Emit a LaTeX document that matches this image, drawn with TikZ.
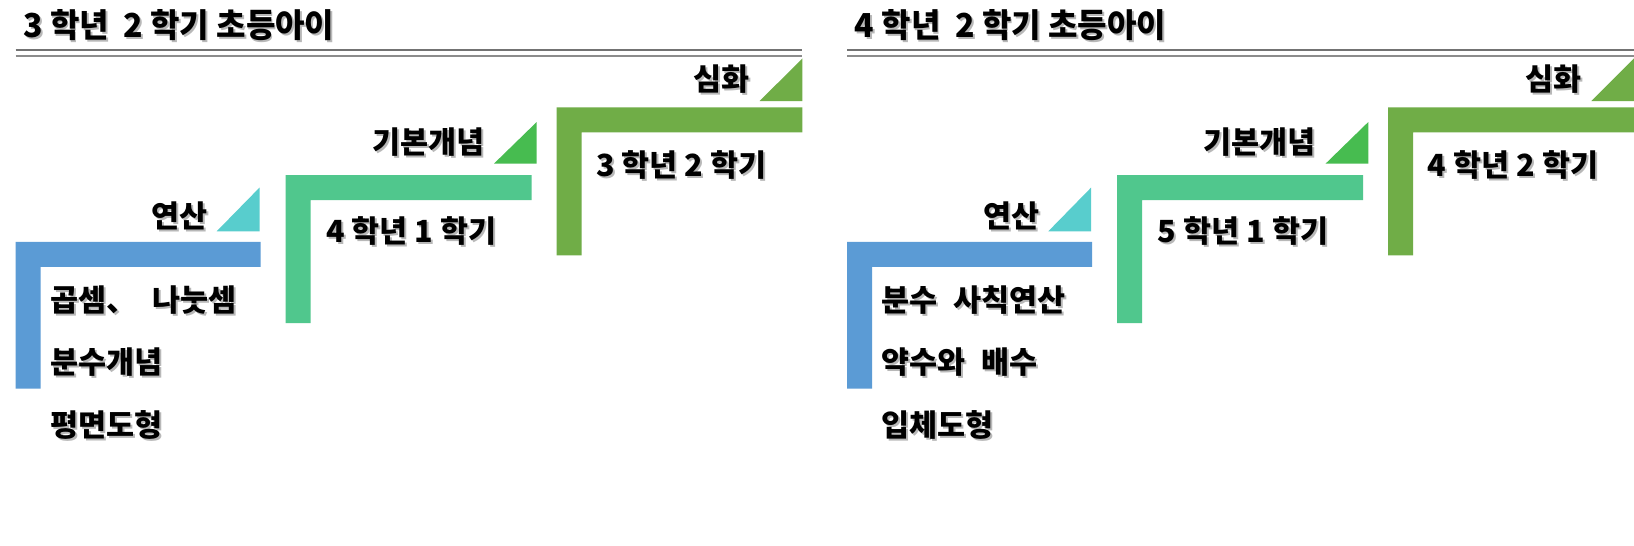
\documentclass[tikz,border=0pt]{standalone}
\usepackage{fontspec}
\setmainfont{Noto Sans CJK KR}
\usetikzlibrary{positioning}
\definecolor{opblue}{HTML}{5B9BD5}
\definecolor{opcyan}{HTML}{58CDCD}
\definecolor{basegreen}{HTML}{50C78D}
\definecolor{basetri}{HTML}{47BC50}
\definecolor{deepolive}{HTML}{70AD47}
% text with a soft drop shadow
\newcommand{\shd}[1]{\makebox[0pt][l]{\hspace{2pt}\raisebox{-2pt}{\color{black!28}#1}}#1}
\newcommand{\widesp}{\spaceskip=0.5em\relax}
\tikzset{
  ttl/.style={font=\fontsize{33}{35}\selectfont\bfseries, inner sep=0pt, xscale=0.97},
  lbl/.style={font=\fontsize{30.5}{32}\selectfont\bfseries, inner sep=0pt},
  rulea/.style={draw=black!55, line width=1.6pt},
  ruleb/.style={draw=black!45, line width=1.2pt}
}
\begin{document}
\begin{tikzpicture}[x=1pt,y=-1pt]
\useasboundingbox[fill=white] (0,0) rectangle (1634,546);
% two panels: left and right
\foreach \dx/\p/\ttl/\gA/\gB/\ia/\ib/\ic in {
  0/L/{3 학년\ \ 2 학기 초등아이}/{4 학년 1 학기}/{3 학년 2 학기}/{곱셈、 나눗셈}/{분수개념}/{평면도형},
  831.6/R/{4 학년\ \ 2 학기 초등아이}/{5 학년 1 학기}/{4 학년 2 학기}/{분수 사칙연산}/{약수와 배수}/{입체도형}} {
\begin{scope}[shift={(\dx,0)}]
  % header
  \node[ttl, anchor=west] (ttl\p) at (23,26) {\shd{\ttl}};
  \draw[rulea] (15.6,50) -- (802.4,50);
  \draw[ruleb] (15.6,56) -- (802.4,56);
  % step 1
  \fill[opblue] (15.6,241.8) -- (260.5,241.8) -- (260.5,266.8) -- (40.6,266.8) -- (40.6,388.7) -- (15.6,388.7) -- cycle;
  \fill[opcyan] (259.5,187.6) -- (259.5,231.3) -- (216.7,231.3) -- cycle;
  \node[lbl, anchor=east] (op\p) at (208,217) {\shd{연산}};
  \node[lbl, anchor=west] (ia\p) at (50,301) {\widesp\shd{\ia}};
  \node[lbl, anchor=west] (ib\p) at (50,363.5) {\widesp\shd{\ib}};
  \node[lbl, anchor=west] (ic\p) at (50,426) {\widesp\shd{\ic}};
  % step 2
  \fill[basegreen] (285.5,175) -- (531.5,175) -- (531.5,200) -- (310.5,200) -- (310.5,323) -- (285.5,323) -- cycle;
  \fill[basetri] (536.7,122) -- (536.7,163.6) -- (494,163.6) -- cycle;
  \node[lbl, anchor=east] (bs\p) at (484.5,143) {\shd{기본개념}};
  \node[lbl, anchor=west] (ga\p) at (326,232) {\shd{\gA}};
  % step 3
  \fill[deepolive] (556.5,107.3) -- (802.4,107.3) -- (802.4,132.3) -- (581.5,132.3) -- (581.5,255.3) -- (556.5,255.3) -- cycle;
  \fill[deepolive] (802.4,58.4) -- (802.4,101) -- (759.7,101) -- cycle;
  \node[lbl, anchor=east] (dp\p) at (750,80) {\shd{심화}};
  \node[lbl, anchor=west] (gb\p) at (596,166) {\shd{\gB}};
\end{scope}
}
\end{tikzpicture}
\end{document}
